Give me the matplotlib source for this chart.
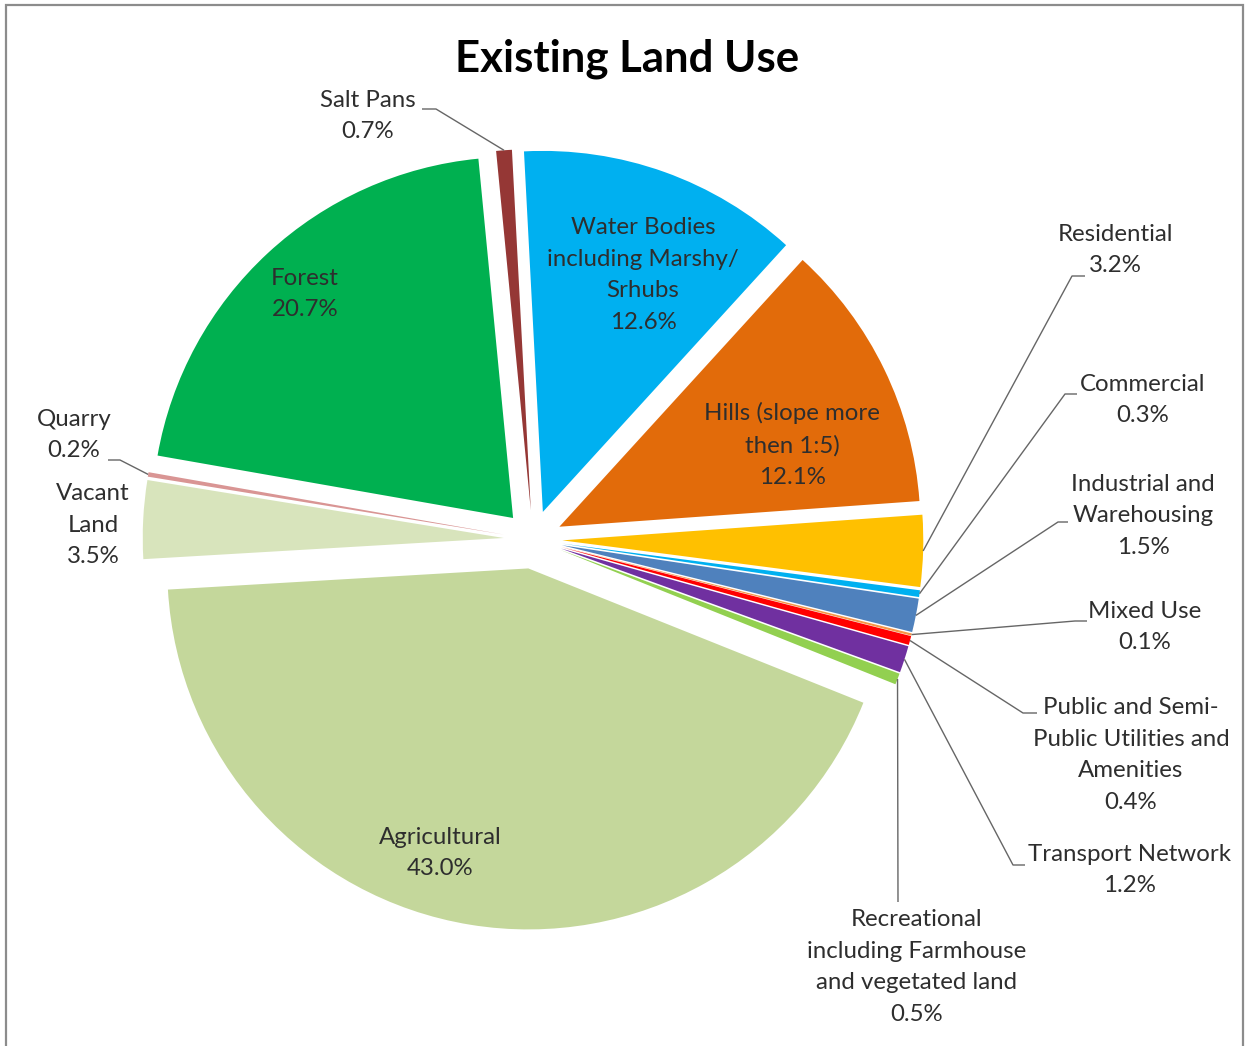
import matplotlib
matplotlib.use("Agg")
import matplotlib.pyplot as plt
import numpy as np
from matplotlib.patches import Rectangle

W, H = 1245, 1046

# ---------------- data ----------------
categories = [
    "Water Bodies\nincluding Marshy/\nSrhubs",
    "Hills (slope more\nthen 1:5)",
    "Residential",
    "Commercial",
    "Industrial and\nWarehousing",
    "Mixed Use",
    "Public and Semi-\nPublic Utilities and\nAmenities",
    "Transport Network",
    "Recreational\nincluding Farmhouse\nand vegetated land",
    "Agricultural",
    "Vacant\nLand",
    "Quarry",
    "Forest",
    "Salt Pans",
]
values = [12.6, 12.1, 3.2, 0.3, 1.5, 0.1, 0.4, 1.2, 0.5, 43.0, 3.5, 0.2, 20.7, 0.7]
colors = ["#00B0F0", "#E26B0A", "#FFC000", "#00B0F0", "#4F81BD", "#F79646",
          "#FF0000", "#7030A0", "#92D050", "#C4D79B", "#D8E4BC", "#D99594",
          "#00B050", "#953735"]

# ---------------- layout (image pixel coords, y down) ----------------
CX, CY, R, EXP = 533, 539.5, 361, 29.3
# label centre positions
label_pos = [(643, 275), (792, 445), (1115, 250), (1143, 400), (1143, 516),
             (1145, 627), (1131, 755), (1129, 870), (917, 967), (440, 853),
             (93, 525), (74, 435), (305, 294), (368, 116)]
# leader lines: (elbow_x, elbow_y, end_x) ; None = no leader
leaders = [None, None, (1072, 276, 1085), (1065, 394, 1077), (1058, 522, 1068),
           (1075, 621, 1087), (1023, 713, 1037), (1013, 865, 1025),
           (898, 902, 898), None, None, (120, 460, 108), None, (436, 109, 422)]

FONT = ["Lato", "DejaVu Sans"]
TXT = "#2E2E2E"

fig = plt.figure(figsize=(W / 100, H / 100), dpi=100)
ax = fig.add_axes([0, 0, 1, 1])
wedges, _ = ax.pie(values, colors=colors, startangle=93, counterclock=False,
                   radius=R, center=(CX, H - CY), explode=[EXP] * len(values),
                   wedgeprops=dict(linewidth=0))
ax.set_xlim(0, W)
ax.set_ylim(0, H)
ax.set_aspect("equal")
ax.axis("off")

for w, cat, v, (lx, ly), ld in zip(wedges, categories, values, label_pos, leaders):
    ax.text(lx, H - ly, f"{cat}\n{v:.1f}%", ha="center", va="center",
            multialignment="center", fontsize=17.3, color=TXT,
            family=FONT, linespacing=1.64)
    if ld is not None:
        mid = np.deg2rad((w.theta1 + w.theta2) / 2)
        px = w.center[0] + w.r * np.cos(mid)
        py = w.center[1] + w.r * np.sin(mid)
        ex, ey, hx = ld
        ax.plot([px, ex, hx], [py, H - ey, H - ey], color="#666666", lw=1.0,
                solid_capstyle="butt")

fig.text(627 / W, 1 - 59 / H, "Existing Land Use", ha="center", va="center",
         fontsize=31.5, fontweight="bold", color="#000000", family=FONT)

fig.patches.append(Rectangle((6 / W, -0.01), (1243 - 6) / W, 1.01 - 5 / H,
                             transform=fig.transFigure, fill=False,
                             edgecolor="#8C8C8C", linewidth=1.6))

fig.savefig("out.png", dpi=100)
